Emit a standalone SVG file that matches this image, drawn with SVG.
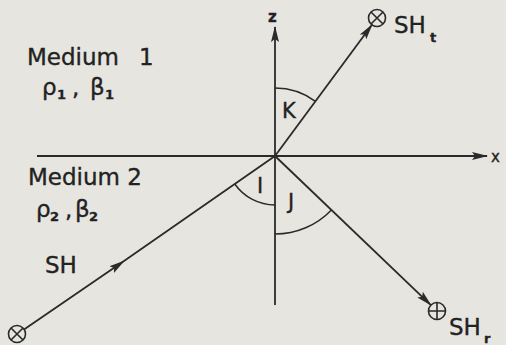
<svg xmlns="http://www.w3.org/2000/svg" width="506" height="345" viewBox="0 0 506 345">
<style>
.ln{stroke:#2a2a2a;stroke-width:1.8;fill:none}
.arc{stroke:#2a2a2a;stroke-width:1.5;fill:none}
.t{font-family:"DejaVu Sans",sans-serif;fill:#222;stroke:#222;stroke-width:0.35}
.big{font-size:23px}
.sub{font-size:13px;font-weight:bold}
.src{stroke:#2a2a2a;stroke-width:1.6;fill:none}
</style>
<defs>
<marker id="ah" viewBox="0 0 16 10" refX="15" refY="5" markerWidth="16" markerHeight="10" markerUnits="userSpaceOnUse" orient="auto">
<path d="M0,1 L16,5 L0,9 L3,5 Z" fill="#2a2a2a"/>
</marker>
</defs>
<rect width="506" height="345" fill="#e6e5e0"/>
<g id="connectors">
<line class="ln" x1="37" y1="156" x2="487" y2="156" marker-end="url(#ah)"/>
<line class="ln" x1="275" y1="305" x2="275" y2="27" marker-end="url(#ah)"/>
<path class="ln" d="M24,329.5 L124,261.1 L275,156" marker-mid="url(#ah)"/>
<line class="ln" x1="275" y1="156" x2="372" y2="24.8" marker-end="url(#ah)"/>
<line class="ln" x1="275" y1="156" x2="430.9" y2="305.1" marker-end="url(#ah)"/>
<path class="arc" d="M275,88 A68,68 0 0 1 315.4,101.3"/>
<path class="arc" d="M234.8,184 A49,49 0 0 0 275,205"/>
<path class="arc" d="M275,234 A78,78 0 0 0 331.4,209.9"/>
</g>
<g id="source-incident">
<circle class="src" cx="17" cy="334" r="8.5"/>
<path class="src" d="M11,328 L23,340 M23,328 L11,340"/>
</g>
<g id="source-transmitted">
<circle class="src" cx="377" cy="18" r="8.5"/>
<path class="src" d="M371,12 L383,24 M383,12 L371,24"/>
<text class="t big" x="394" y="33">SH</text>
<text class="t sub" x="430" y="42">t</text>
</g>
<g id="source-reflected">
<circle class="src" cx="437" cy="311" r="8.5"/>
<path class="src" d="M437,302.5 L437,319.5 M428.5,311 L445.5,311"/>
<text class="t big" x="449" y="335">SH</text>
<text class="t sub" x="484" y="343">r</text>
</g>
<g id="labels">
<text class="t" x="268" y="22" font-size="15" font-weight="bold">z</text>
<text class="t" x="491" y="162" font-size="15">x</text>
<text class="t big" x="27" y="65">Medium</text>
<text class="t big" x="139" y="65">1</text>
<text class="t big" x="42" y="95">ρ</text>
<text class="t sub" x="57" y="99">1</text>
<text class="t big" x="72" y="95">,</text>
<text class="t big" x="90" y="95">β</text>
<text class="t sub" x="105" y="99">1</text>
<text class="t big" x="28" y="185">Medium 2</text>
<text class="t big" x="36" y="217">ρ</text>
<text class="t sub" x="50" y="221">2</text>
<text class="t big" x="65" y="217">,</text>
<text class="t big" x="75" y="217">β</text>
<text class="t sub" x="89" y="221">2</text>
<text class="t big" x="45" y="273">SH</text>
<text class="t" x="282" y="118" font-size="21">K</text>
<text class="t" x="257" y="193" font-size="21">I</text>
<text class="t" x="288" y="209" font-size="21">J</text>
</g>
</svg>
